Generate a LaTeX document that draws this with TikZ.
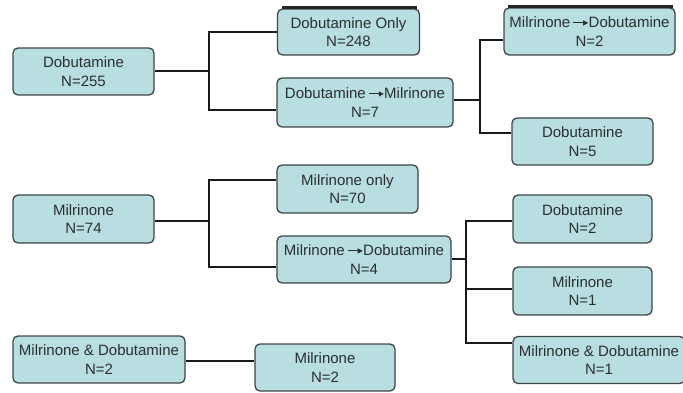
\documentclass[tikz,border=0pt]{standalone}
\usepackage{fontspec}
\setmainfont{Liberation Sans}
\usetikzlibrary{arrows.meta}
\definecolor{boxfill}{HTML}{B9DEE2}
\definecolor{boxline}{HTML}{3E4545}
\definecolor{txt}{HTML}{2A2F2F}
\newcommand{\tarr}{\,\tikz[baseline=-0.6ex]\draw[line width=0.9pt,-{Triangle[length=5pt,width=5pt]}] (0,0)--(15pt,0);}
\tikzset{
  box/.style={draw=boxline, line width=1.3pt, fill=boxfill, rounded corners=5pt,
    align=center, text=txt, inner sep=0pt, font=\fontsize{15}{18.5}\selectfont},
  conn/.style={line width=2.6pt, black!90},
  bar/.style={line width=3pt, black!85}
}
\begin{document}
\begin{tikzpicture}[x=1pt,y=-1pt]
\useasboundingbox (0,0) rectangle (683,393);
% boxes
\node[box, minimum width=141pt, minimum height=47pt] (A) at (83.5,71.5) {Dobutamine\\N=255};
\node[box, minimum width=142pt, minimum height=46pt] (B) at (348.5,32) {Dobutamine Only\\N=248};
\node[box, minimum width=176pt, minimum height=49pt] (C) at (365,102.5) {Dobutamine\tarr Milrinone\\N=7};
\node[box, minimum width=171pt, minimum height=47pt] (D) at (589.5,31.5) {Milrinone\tarr Dobutamine\\N=2};
\node[box, minimum width=141pt, minimum height=47pt] (E) at (582.5,141.5) {Dobutamine\\N=5};
\node[box, minimum width=141pt, minimum height=48pt] (F) at (83.5,219) {Milrinone\\N=74};
\node[box, minimum width=141pt, minimum height=48pt] (G) at (347.5,189) {Milrinone only\\N=70};
\node[box, minimum width=174pt, minimum height=47pt] (H) at (364,259.5) {Milrinone\tarr Dobutamine\\N=4};
\node[box, minimum width=139pt, minimum height=48pt] (I) at (582.5,219) {Dobutamine\\N=2};
\node[box, minimum width=139pt, minimum height=48pt] (J) at (582.5,291) {Milrinone\\N=1};
\node[box, minimum width=172pt, minimum height=47pt] (K) at (599,360) {Milrinone \& Dobutamine\\N=1};
\node[box, minimum width=172pt, minimum height=47pt] (L) at (99,359.5) {Milrinone \& Dobutamine\\N=2};
\node[box, minimum width=140pt, minimum height=47pt] (M) at (325,367.5) {Milrinone\\N=2};
% dark strips along the tops of B and D
\draw[bar] ([xshift=5pt,yshift=1pt]B.north west) -- ([xshift=-3pt,yshift=1pt]B.north east);
\draw[bar] ([xshift=5pt,yshift=1pt]D.north west) -- ([xshift=-3pt,yshift=1pt]D.north east);
% junction coordinates
\coordinate (j1) at (209,71);  \coordinate (j1t) at (209,32);  \coordinate (j1b) at (209,110);
\coordinate (j2) at (480,100); \coordinate (j2t) at (480,40);  \coordinate (j2b) at (480,133);
\coordinate (j3) at (209,221); \coordinate (j3t) at (209,180); \coordinate (j3b) at (209,267);
\coordinate (j4) at (466,259); \coordinate (j4t) at (466,221); \coordinate (j4m) at (466,289); \coordinate (j4b) at (466,343);
\coordinate (j5) at (0,361);
% connectors
\draw[conn] (A.east |- j1) -- (j1);
\draw[conn] (j1t -| B.west) -- (j1t) -- (j1b) -- (j1b -| C.west);
\draw[conn] (C.east |- j2) -- (j2);
\draw[conn] (j2t -| D.west) -- (j2t) -- (j2b) -- (j2b -| E.west);
\draw[conn] (F.east |- j3) -- (j3);
\draw[conn] (j3t -| G.west) -- (j3t) -- (j3b) -- (j3b -| H.west);
\draw[conn] (H.east |- j4) -- (j4);
\draw[conn] (j4t -| I.west) -- (j4t) -- (j4b) -- (j4b -| K.west);
\draw[conn] (j4m) -- (j4m -| J.west);
\draw[conn] (L.east |- j5) -- (M.west |- j5);
\end{tikzpicture}
\end{document}
